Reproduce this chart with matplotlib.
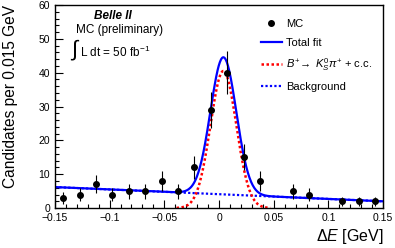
import numpy as np
import matplotlib.pyplot as plt
from matplotlib.lines import Line2D
from matplotlib.ticker import MultipleLocator

plt.rcParams['font.family'] = ['Liberation Sans', 'DejaVu Sans']
plt.rcParams['mathtext.fontset'] = 'custom'
plt.rcParams['mathtext.rm'] = 'Liberation Sans'
plt.rcParams['mathtext.it'] = 'Liberation Sans:italic'

# binned MC counts, 0.015 GeV bins from -0.15 to 0.15
bin_centers = [-0.1425, -0.1275, -0.1125, -0.0975, -0.0825, -0.0675, -0.0525,
               -0.0375, -0.0225, -0.0075, 0.0075, 0.0225, 0.0375, 0.0525,
               0.0675, 0.0825, 0.0975, 0.1125, 0.1275, 0.1425]
counts = [3, 4, 7, 4, 5, 5, 8, 5, 12, 29, 40, 15, 8, 0, 5, 4, 0, 2, 2, 2]

# fit parameters
sig_amp = 40.5
sig_mean = 0.004
sig_width = 0.0118
bkg_at_zero = 4.1
bkg_slope = -14.0

x = np.array(bin_centers)
n = np.array(counts)
keep = n > 0

xf = np.linspace(-0.15, 0.15, 600)
sig = sig_amp * np.exp(-0.5 * ((xf - sig_mean) / sig_width) ** 2)
bkg = bkg_at_zero + bkg_slope * xf
tot = sig + bkg

fig = plt.figure(figsize=(3.95, 2.48), dpi=100)
ax = fig.add_axes([0.139, 0.161, 0.831, 0.819])

ax.plot(xf, bkg, color='#0000ff', ls=(0, (1, 1)), lw=1.6)
sm = sig > 0.05
ax.plot(xf[sm], sig[sm], color='#ff0000', ls=(0, (1, 1)), lw=1.8)
ax.plot(xf, tot, color='#0000ff', lw=1.6)
ax.errorbar(x[keep], n[keep], yerr=np.sqrt(n[keep]), fmt='o', color='black',
            ms=4, elinewidth=0.8, capsize=0)

ax.set_xlim(-0.15, 0.15)
ax.set_ylim(0, 60)
ax.xaxis.set_major_locator(MultipleLocator(0.05))
ax.xaxis.set_minor_locator(MultipleLocator(0.01))
ax.yaxis.set_major_locator(MultipleLocator(10))
ax.yaxis.set_minor_locator(MultipleLocator(2))
ax.tick_params(which='both', direction='in', labelsize=7.5, width=0.8)
ax.tick_params(which='major', length=6)
ax.tick_params(which='minor', length=3)
ax.set_xticks([-0.15, -0.1, -0.05, 0, 0.05, 0.1, 0.15])
ax.set_xticklabels(['\u22120.15', '\u22120.1', '\u22120.05', '0', '0.05', '0.1', '0.15'])
for s in ax.spines.values():
    s.set_linewidth(1.0)

ax.set_ylabel('Candidates per 0.015 GeV', fontsize=11.2, loc='top', labelpad=15)
ax.set_xlabel(r'$\Delta E$ [GeV]', fontsize=11.5, loc='right', labelpad=3)

ax.text(0.119, 0.945, 'Belle II', transform=ax.transAxes, fontsize=8.5,
        fontweight='bold', style='italic', ha='left', va='center')
ax.text(0.064, 0.875, 'MC (preliminary)', transform=ax.transAxes, fontsize=8.5,
        ha='left', va='center')
ax.text(0.045, 0.775, r'$\int$', transform=ax.transAxes, fontsize=16,
        ha='left', va='center')
ax.text(0.077, 0.765, r'L dt = 50 fb$^{\mathregular{-1}}$', transform=ax.transAxes,
        fontsize=8.5, ha='left', va='center')

handles = [
    Line2D([], [], color='black', marker='o', ls='none', ms=4),
    Line2D([], [], color='#0000ff', lw=1.6),
    Line2D([], [], color='#ff0000', lw=1.8, ls=(0, (1, 1))),
    Line2D([], [], color='#0000ff', lw=1.6, ls=(0, (1, 1))),
]
labels = ['MC', 'Total fit', r'$B^{+}\!\rightarrow\ K^{0}_{S}\pi^{+}$ + c.c.', 'Background']
ax.legend(handles, labels, loc='upper left', bbox_to_anchor=(0.61, 0.96),
          frameon=False, fontsize=8, handlelength=1.9, handletextpad=0.4,
          labelspacing=0.8, borderpad=0)

fig.savefig('out.png', dpi=100)
